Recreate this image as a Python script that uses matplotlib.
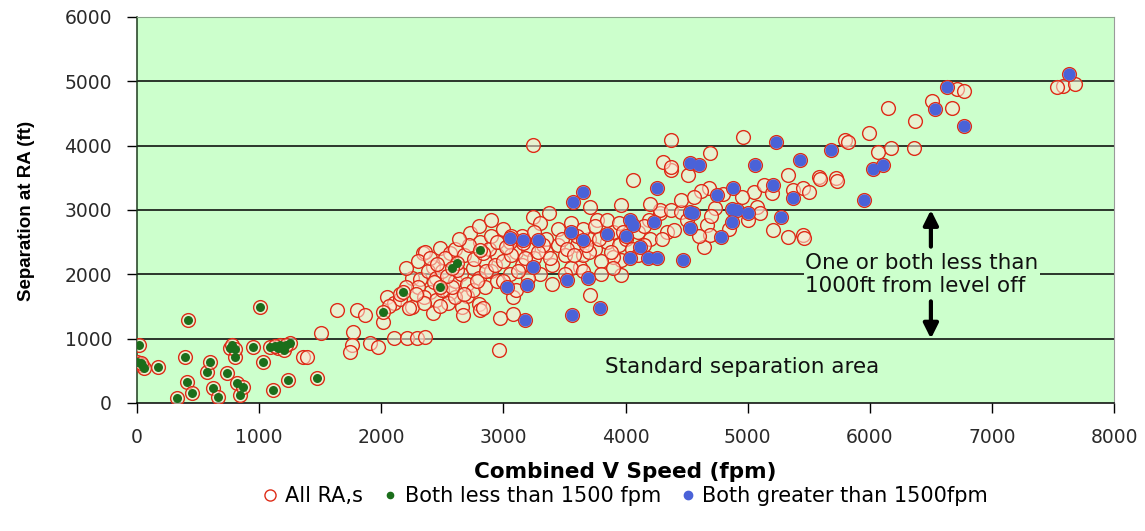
import numpy as np
import matplotlib
matplotlib.use("Agg")
import matplotlib.pyplot as plt
from matplotlib.lines import Line2D

# --------------------------------------------------------------------------- #
# data: (combined V speed fpm, separation ft)
# green: both aircraft < 1500 fpm
low_pts = [
    (0, 640), (20, 900), (40, 590), (60, 540), (30, 620), (170, 560),
    (390, 710), (420, 1290), (330, 80), (410, 330), (450, 160), (570, 480),
    (600, 640), (620, 230), (660, 100), (740, 470), (760, 850), (780, 900),
    (800, 720), (820, 310), (840, 130), (870, 250), (950, 870), (1010, 1490),
    (1030, 640), (1090, 870), (1110, 200), (1150, 850), (1170, 900),
    (1200, 830), (1240, 360), (1250, 930), (1470, 390), (2010, 1420),
    (2180, 1720), (2620, 2180), (2580, 2100), (2810, 2380), (2480, 1800),
    (1130, 880), (1220, 900), (800, 840),
]
# blue: both aircraft > 1500 fpm
high_pts = [
    (3650, 3280), (3570, 3130), (4260, 3340), (4040, 2850), (4060, 2770),
    (4530, 2970), (4530, 2720), (3160, 2540), (3280, 2540), (3550, 2660),
    (3650, 2540), (4120, 2430), (4040, 2260), (4180, 2260), (4260, 2260),
    (4470, 2220), (3240, 2120), (3030, 1800), (3190, 1840), (3520, 1910),
    (3690, 1940), (3180, 1290), (3560, 1370), (3790, 1480), (5230, 4060),
    (5680, 3930), (4530, 3730), (4600, 3700), (5060, 3700), (5430, 3780),
    (4880, 3340), (4750, 3240), (5210, 3390), (5370, 3190), (4550, 2960),
    (4870, 3020), (4910, 3000), (5000, 2960), (5270, 2890), (4230, 2820),
    (4780, 2580), (4870, 2820), (7630, 5120), (6630, 4910), (6530, 4570),
    (6770, 4310), (6030, 3640), (6110, 3700), (5950, 3150), (3850, 2620),
    (4000, 2600), (3050, 2560),
]
# the remaining RAs (red circles only)
other_pts = [
    # low / mid speed
    (1360, 710), (1390, 720), (1510, 1090), (1640, 1450), (1800, 1450),
    (1870, 1370), (2010, 1260), (1770, 1100), (1760, 900), (1740, 790),
    (1910, 930), (1970, 870), (2100, 1010), (2210, 1010), (2290, 1010),
    (2360, 1030), (2050, 1650), (2250, 1490), (2250, 1940), (2340, 2330),
    (2960, 820), (2100, 1560), (2150, 1620), (2060, 1500),
    # dense band 2100-3000
    (2730, 2640), (2810, 2500), (2360, 2350), (2480, 2410), (2560, 2330),
    (2420, 2120), (2320, 1930), (2400, 1730), (2560, 1710), (2700, 1660),
    (2800, 1540), (2660, 1490), (2420, 1400), (2670, 1370), (2810, 1450),
    (2970, 1320), (3080, 1380), (2830, 1480), (2300, 1800), (2350, 1650),
    (2450, 1600), (2500, 1750), (2550, 1550), (2600, 1900), (2650, 2000),
    (2700, 1850), (2750, 2100), (2800, 1950), (2850, 2200), (2900, 2050),
    (2950, 2300), (2300, 2200), (2380, 2050), (2450, 1950), (2520, 2250),
    (2600, 2400), (2680, 2300), (2720, 2450), (2880, 2400), (2900, 2600),
    (2950, 2500), (2200, 1800), (2150, 1700), (2350, 1550), (2480, 1500),
    (2600, 1650), (2750, 1750), (2850, 1800), (2950, 1900), (2640, 2550),
    (2800, 2750), (2900, 2850), (3000, 2700), (2500, 2050), (2200, 2100),
    (2400, 2250), (2280, 1700), (2580, 1800), (2680, 1700), (2230, 1480),
    (2430, 1880), (2540, 1980), (2620, 2060), (2760, 2240), (2830, 2330),
    (2460, 2160), (2780, 1900), (2860, 2050), (2930, 2150),
    # dense band 3000-4200
    (3240, 2890), (3370, 2960), (3300, 2800), (3770, 2850), (4190, 2850),
    (4280, 2960), (3710, 3050), (3960, 3080), (4060, 3470), (4370, 3620),
    (4510, 3550), (3080, 1650), (3710, 1680), (3630, 2120), (3960, 1990),
    (3960, 2220), (3900, 2270), (3000, 2200), (3050, 2000), (3100, 2350),
    (3150, 2150), (3200, 2400), (3250, 2250), (3300, 2000), (3350, 2350),
    (3400, 2150), (3450, 2450), (3500, 2300), (3550, 2100), (3600, 2450),
    (3650, 2300), (3700, 2550), (3750, 2400), (3800, 2200), (3850, 2500),
    (3900, 2650), (3950, 2450), (4000, 2550), (4050, 2400), (4100, 2650),
    (4150, 2750), (4200, 2550), (3050, 2500), (3150, 2600), (3250, 2650),
    (3350, 2550), (3450, 2700), (3550, 2800), (3650, 2700), (3750, 2750),
    (3850, 2850), (3950, 2800), (3000, 1900), (3100, 1750), (3200, 1950),
    (3400, 1850), (3500, 2000), (3650, 2050), (3800, 2000), (3900, 2100),
    (4100, 2300), (3120, 2050), (3320, 2450), (3480, 2550), (3600, 2600),
    (3700, 2350), (3240, 4010), (3060, 2300), (3180, 2250), (3280, 2350),
    (3380, 2250), (3520, 2400), (3580, 2300), (3680, 2450), (3780, 2550),
    (3880, 2350), (3980, 2650), (3060, 2600), (3160, 2480), (3020, 2420),
    # 4200-5800
    (4370, 4090), (4960, 4140), (5800, 4090), (4690, 3890), (4310, 3750),
    (4370, 3670), (5330, 3550), (5580, 3520), (5720, 3500), (4680, 3340),
    (4730, 3030), (4340, 2660), (4400, 2690), (5210, 2690), (5330, 2580),
    (5450, 2610), (4640, 2430), (4280, 3000), (4370, 3000), (4450, 2970),
    (5080, 3050), (5100, 2960), (5050, 3280), (5130, 3390), (5200, 3270),
    (5370, 3310), (5450, 3340), (5500, 3280), (4670, 2770), (4690, 2610),
    (4620, 3300), (4800, 3250), (4950, 3200), (4450, 3150), (4200, 3100),
    (4500, 2850), (4700, 2900), (4850, 2700), (5000, 2850), (4600, 2600),
    (4300, 2550), (4150, 2450), (4560, 3200),
    # high speed tail
    (7580, 4930), (7680, 4960), (7530, 4910), (6710, 4880), (6770, 4850),
    (6510, 4700), (6670, 4590), (6150, 4590), (6370, 4390), (5990, 4200),
    (5820, 4060), (6070, 3900), (6170, 3970), (6360, 3970), (5590, 3480),
    (5730, 3450), (5460, 2570),
]

series_labels = ["All RA,s", "Both less than 1500 fpm", "Both greater than 1500fpm"]
x_ticks = list(range(0, 8001, 1000))
y_ticks = list(range(0, 6001, 1000))

low = np.array(low_pts, float)
high = np.array(high_pts, float)
every = np.vstack([np.array(other_pts, float), low, high])   # "All RA,s"

RED, GREEN, BLUE = "#DE2C18", "#1B6E1B", "#4A62D8"
PEACH = (1.0, 0.91, 0.84, 0.55)
BG = "#CCFFCC"

# --------------------------------------------------------------------------- #
fig = plt.figure(figsize=(11.45, 5.31), dpi=100)
ax = fig.add_axes([0.1197, 0.2411, 0.8533, 0.7269])
ax.set_facecolor(BG)

for yv in y_ticks[1:-1]:
    ax.axhline(yv, color="black", lw=1.1, zorder=1)

ax.scatter(every[:, 0], every[:, 1], s=98, facecolors=PEACH,
           edgecolors=RED, linewidths=1.0, zorder=3)
ax.scatter(low[:, 0], low[:, 1], s=42, color=GREEN, linewidths=0, zorder=4)
ax.scatter(high[:, 0], high[:, 1], s=78, color=BLUE, linewidths=0, zorder=5)

ax.set_xlim(0, 8000)
ax.set_ylim(0, 6000)
ax.set_xticks(x_ticks)
ax.set_yticks(y_ticks)
ax.tick_params(direction="out", length=7, width=1.0, pad=11,
               labelsize=13.5, labelcolor="#2a2a2a")
for side in ("left", "bottom"):
    ax.spines[side].set_color("black")
    ax.spines[side].set_linewidth(1.1)
ax.spines["left"].set_color("#1d3a1d")
ax.spines["top"].set_color("#8aa58a")
ax.spines["right"].set_color("#9a9a9a")

# annotations
ax.text(5470, 2000, "One or both less than\n1000ft from level off",
        fontsize=15.5, ha="left", va="center", linespacing=1.15,
        color="#111111", zorder=6,
        bbox=dict(facecolor=BG, edgecolor="none", pad=1))
ax.annotate("", xy=(6500, 3000), xytext=(6500, 2430),
            arrowprops=dict(arrowstyle="-|>", color="black", lw=3,
                            mutation_scale=22, shrinkA=0, shrinkB=0),
            zorder=7)
ax.annotate("", xy=(6500, 1000), xytext=(6500, 1580),
            arrowprops=dict(arrowstyle="-|>", color="black", lw=3,
                            mutation_scale=22, shrinkA=0, shrinkB=0),
            zorder=7)
ax.text(3830, 470, "Standard separation area", fontsize=15.5,
        ha="left", va="baseline", color="#111111", zorder=6)

fig.text(0.546, 1 - 472 / 531, "Combined V Speed (fpm)", fontsize=15.5,
         fontweight="bold", ha="center", va="center")
fig.text(27 / 1145, 1 - 211 / 531, "Separation at RA (ft)", rotation=90,
         family="Liberation Sans", fontsize=13.5, fontweight="bold",
         ha="center", va="center")

handles = [
    Line2D([], [], ls="none", marker="o", ms=8, mfc="none", mec=RED, mew=1.0),
    Line2D([], [], ls="none", marker="o", ms=4.5, mfc=GREEN, mec=GREEN),
    Line2D([], [], ls="none", marker="o", ms=6, mfc=BLUE, mec=BLUE),
]
fig.legend(handles, series_labels, loc="center", ncol=3,
           bbox_to_anchor=(0.546, 1 - 496 / 531), frameon=False,
           fontsize=15, handlelength=0.8, handletextpad=0.3,
           columnspacing=0.9)

fig.savefig("out.png", dpi=100)
